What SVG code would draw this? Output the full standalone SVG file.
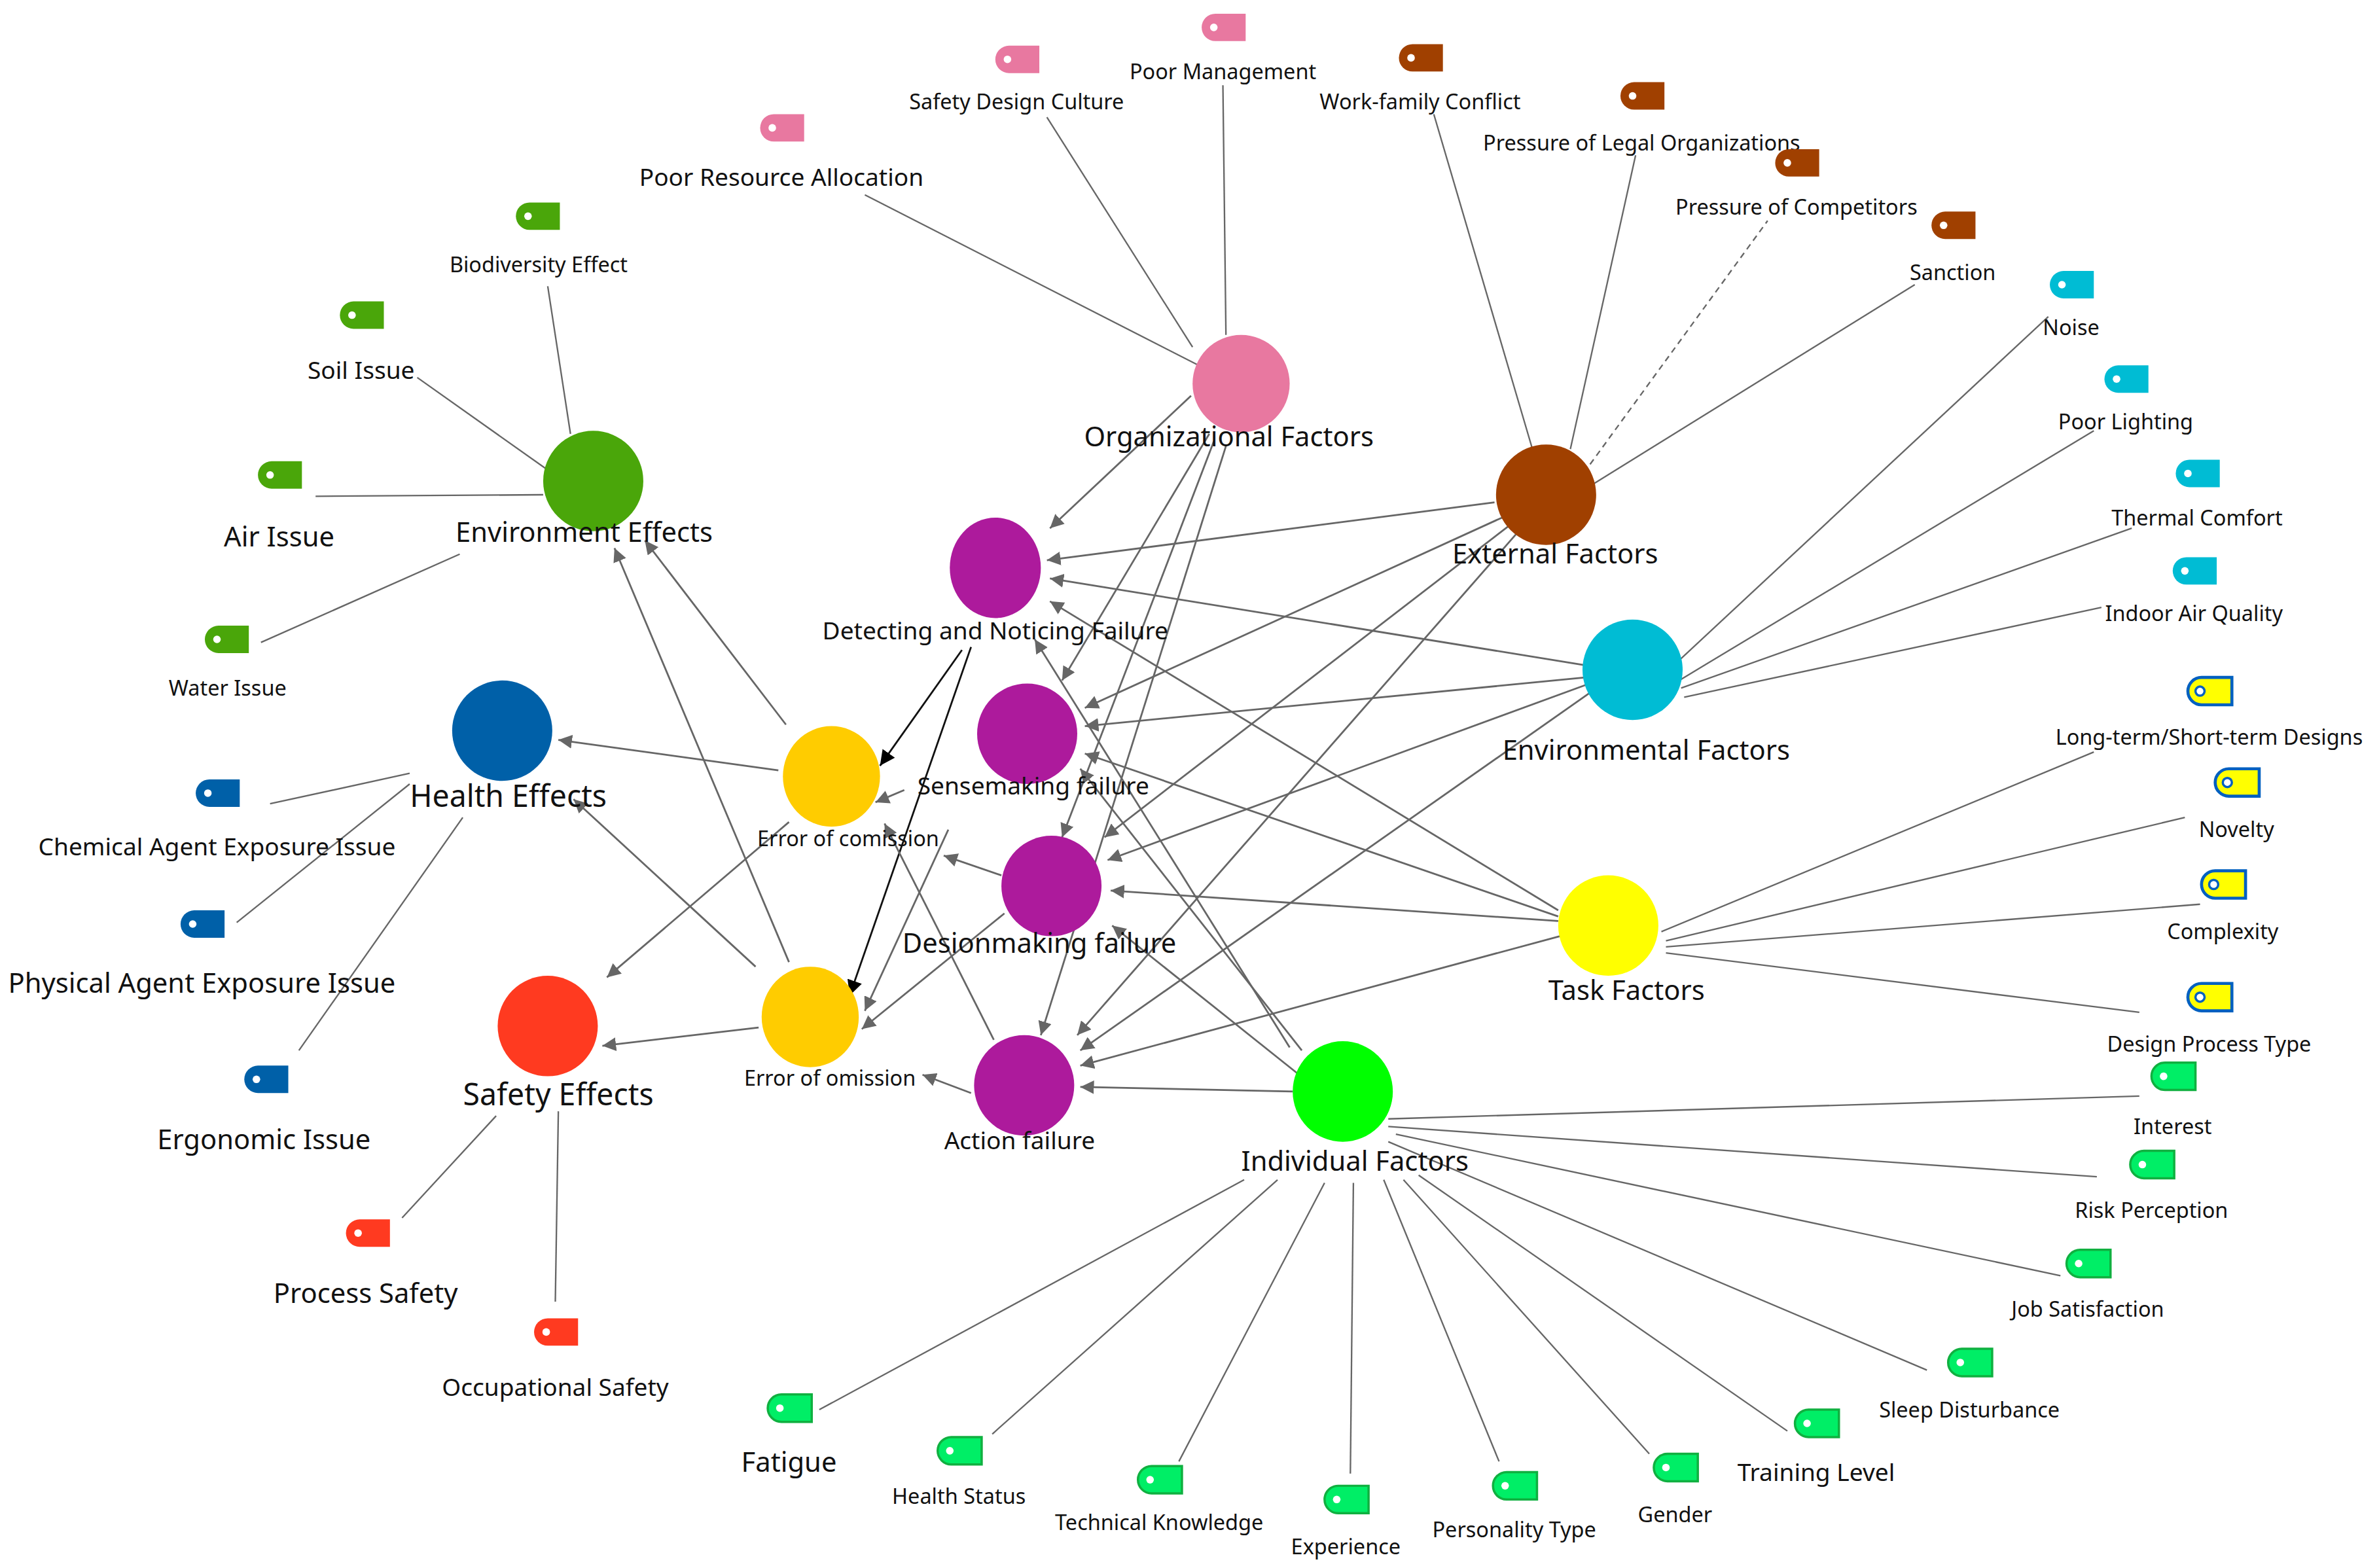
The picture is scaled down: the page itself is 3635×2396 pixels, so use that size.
<svg xmlns="http://www.w3.org/2000/svg" xmlns:xlink="http://www.w3.org/1999/xlink" width="3635" height="2396" viewBox="0 0 3635 2396">
<style>
text{font-family:"Noto Sans","Liberation Sans",sans-serif;fill:#111;text-anchor:middle}
.l{stroke:#666;stroke-width:1;fill:none}
.a{stroke:#666;stroke-width:1.2;fill:none;marker-end:url(#ah)}
.k{stroke:#111;stroke-width:1.2;fill:none;marker-end:url(#ak)}
.s{font-size:14px}.m{font-size:16px}.b{font-size:18px}
</style>
<defs>
<marker id="ah" viewBox="0 0 10 10" refX="10" refY="5" markerWidth="9" markerHeight="9" markerUnits="userSpaceOnUse" orient="auto"><path d="M0,0L10,5L0,10Z" fill="#666"/></marker>
<marker id="ak" viewBox="0 0 10 10" refX="10" refY="5" markerWidth="10" markerHeight="10" markerUnits="userSpaceOnUse" orient="auto"><path d="M0,0L10,5L0,10Z" fill="#000"/></marker>
<g id="tag"><path d="M-5,-9H15V9H-5A9,9 0 0 1 -5,-9Z"/><circle cx="-6" cy="0" r="2.5" fill="#fff" stroke="none"/></g>
<g id="tagy"><path d="M-5,-9H15V9H-5A9,9 0 0 1 -5,-9Z" fill="#ffff00" stroke="#0060c0" stroke-width="2"/><circle cx="-6" cy="0" r="3" fill="#fff" stroke="#0060c0" stroke-width="1.5"/></g>
<g id="tagg"><path d="M-5,-9H15V9H-5A9,9 0 0 1 -5,-9Z" fill="#00ee66" stroke="#10b040" stroke-width="1.5"/><circle cx="-6" cy="0" r="2.5" fill="#fff" stroke="none"/></g>
</defs>
<rect width="3635" height="2396" fill="#fff"/>
<g transform="scale(2.3183,2.3262)">
<g id="connectors">
<line class="l" x1="790" y1="240" x2="570" y2="128"/>
<line class="l" x1="786" y1="228" x2="690" y2="77"/>
<line class="l" x1="808" y1="220" x2="806" y2="56"/>
<line class="l" x1="1010" y1="295" x2="945" y2="75"/>
<line class="l" x1="1035" y1="295" x2="1078" y2="102"/>
<line class="l" x1="1048" y1="305" x2="1165" y2="145" stroke-dasharray="4,3"/>
<line class="l" x1="1050" y1="318" x2="1262" y2="187"/>
<line class="l" x1="1100" y1="440" x2="1350" y2="208"/>
<line class="l" x1="1105" y1="448" x2="1380" y2="283"/>
<line class="l" x1="1108" y1="452" x2="1405" y2="347"/>
<line class="l" x1="1110" y1="458" x2="1385" y2="399"/>
<line class="l" x1="1095" y1="612" x2="1380" y2="494"/>
<line class="l" x1="1098" y1="618" x2="1440" y2="537"/>
<line class="l" x1="1098" y1="622" x2="1450" y2="594"/>
<line class="l" x1="1098" y1="626" x2="1410" y2="665"/>
<line class="l" x1="915" y1="735" x2="1410" y2="720"/>
<line class="l" x1="915" y1="740" x2="1382" y2="773"/>
<line class="l" x1="920" y1="745" x2="1358" y2="838"/>
<line class="l" x1="915" y1="750" x2="1270" y2="900"/>
<line class="l" x1="935" y1="772" x2="1178" y2="940"/>
<line class="l" x1="925" y1="775" x2="1087" y2="955"/>
<line class="l" x1="912" y1="775" x2="988" y2="960"/>
<line class="l" x1="892" y1="777" x2="890" y2="968"/>
<line class="l" x1="873" y1="777" x2="777" y2="960"/>
<line class="l" x1="842" y1="775" x2="654" y2="942"/>
<line class="l" x1="820" y1="775" x2="540" y2="926"/>
<line class="l" x1="376" y1="285" x2="361" y2="188" stroke="#1a7ac0"/>
<line class="l" x1="360" y1="308" x2="275" y2="248"/>
<line class="l" x1="358" y1="325" x2="208" y2="326"/>
<line class="l" x1="303" y1="364" x2="172" y2="422"/>
<line class="l" x1="270" y1="508" x2="178" y2="528"/>
<line class="l" x1="270" y1="515" x2="156" y2="606"/>
<line class="l" x1="305" y1="537" x2="197" y2="690"/>
<line class="l" x1="327" y1="733" x2="265" y2="800"/>
<line class="l" x1="368" y1="730" x2="366" y2="855"/>
<line class="a" x1="785" y1="260" x2="692" y2="347"/>
<line class="a" x1="797" y1="285" x2="700" y2="447"/>
<line class="a" x1="800" y1="290" x2="700" y2="550"/>
<line class="a" x1="808" y1="293" x2="686" y2="680"/>
<line class="a" x1="985" y1="330" x2="690" y2="368"/>
<line class="a" x1="990" y1="340" x2="715" y2="465"/>
<line class="a" x1="995" y1="345" x2="728" y2="550"/>
<line class="a" x1="1000" y1="350" x2="710" y2="680"/>
<line class="a" x1="1045" y1="437" x2="692" y2="380"/>
<line class="a" x1="1045" y1="445" x2="715" y2="477"/>
<line class="a" x1="1045" y1="450" x2="730" y2="565"/>
<line class="a" x1="1048" y1="455" x2="712" y2="690"/>
<line class="a" x1="1027" y1="598" x2="692" y2="395"/>
<line class="a" x1="1027" y1="602" x2="715" y2="495"/>
<line class="a" x1="1027" y1="605" x2="732" y2="585"/>
<line class="a" x1="1028" y1="615" x2="712" y2="700"/>
<line class="a" x1="852" y1="717" x2="712" y2="714"/>
<line class="a" x1="855" y1="705" x2="733" y2="608"/>
<line class="a" x1="858" y1="690" x2="712" y2="505"/>
<line class="a" x1="850" y1="688" x2="682" y2="420"/>
<line class="k" x1="634" y1="427" x2="580" y2="503"/>
<line class="k" x1="640" y1="425" x2="560" y2="654"/>
<line class="a" x1="596" y1="519" x2="577" y2="527"/>
<line class="a" x1="660" y1="575" x2="622" y2="562"/>
<line class="a" x1="655" y1="683" x2="583" y2="541"/>
<line class="a" x1="662" y1="600" x2="568" y2="676"/>
<line class="a" x1="625" y1="545" x2="570" y2="664"/>
<line class="a" x1="640" y1="718" x2="608" y2="706"/>
<line class="a" x1="518" y1="476" x2="425" y2="355"/>
<line class="a" x1="513" y1="506" x2="368" y2="486"/>
<line class="a" x1="520" y1="540" x2="400" y2="642"/>
<line class="a" x1="500" y1="675" x2="397" y2="687"/>
<line class="a" x1="498" y1="635" x2="378" y2="525"/>
<line class="a" x1="520" y1="632" x2="405" y2="360"/>
</g>
<g id="n-org"><circle cx="818" cy="252" r="32" fill="#e878a0"/><text class="b" x="810" y="293">Organizational Factors</text></g>
<g id="n-ext"><circle cx="1019" cy="325" r="33" fill="#a04000"/><text class="b" x="1025" y="370">External Factors</text></g>
<g id="n-env"><circle cx="1076" cy="440" r="33" fill="#00bcd4"/><text class="b" x="1085" y="499">Environmental Factors</text></g>
<g id="n-task"><circle cx="1060" cy="608" r="33" fill="#ffff00"/><text class="b" x="1072" y="657">Task Factors</text></g>
<g id="n-ind"><circle cx="885" cy="717" r="33" fill="#00ff00"/><text class="b" x="893" y="769">Individual Factors</text></g>
<g id="n-enveff"><circle cx="391" cy="316" r="33" fill="#4aa60a"/><text class="b" x="385" y="356">Environment Effects</text></g>
<g id="n-health"><circle cx="331" cy="480" r="33" fill="#0060a8"/><text x="335" y="530" font-size="20">Health Effects</text></g>
<g id="n-safety"><circle cx="361" cy="674" r="33" fill="#ff3a20"/><text x="368" y="726" font-size="20">Safety Effects</text></g>
<g id="n-detect"><ellipse cx="656" cy="373" rx="30" ry="33" fill="#ad1a9c"/><text class="m" x="656" y="420">Detecting and Noticing Failure</text></g>
<g id="n-sense"><ellipse cx="677" cy="482" rx="33" ry="33" fill="#ad1a9c"/><text class="m" x="681" y="522">Sensemaking failure</text></g>
<g id="n-decide"><ellipse cx="693" cy="582" rx="33" ry="33" fill="#ad1a9c"/><text class="b" x="685" y="626">Desionmaking failure</text></g>
<g id="n-action"><ellipse cx="675" cy="713" rx="33" ry="33" fill="#ad1a9c"/><text class="m" x="672" y="755">Action failure</text></g>
<g id="n-comm"><ellipse cx="548" cy="510" rx="32" ry="33" fill="#ffcc00"/><text class="s" x="559" y="556">Error of comission</text></g>
<g id="n-omis"><ellipse cx="534" cy="668" rx="32" ry="33" fill="#ffcc00"/><text class="s" x="547" y="713">Error of omission</text></g>

<g fill="#e878a0">
<g id="t-pra"><use href="#tag" x="515" y="84"/><text class="m" x="515" y="122">Poor Resource Allocation</text></g>
<g id="t-sdc"><use href="#tag" x="670" y="39"/><text class="s" x="670" y="72">Safety Design Culture</text></g>
<g id="t-pm"><use href="#tag" x="806" y="18"/><text class="s" x="806" y="52">Poor Management</text></g>
</g>
<g fill="#a04000">
<g id="t-wfc"><use href="#tag" x="936" y="38"/><text class="s" x="936" y="72">Work-family Conflict</text></g>
<g id="t-plo"><use href="#tag" x="1082" y="63"/><text class="s" x="1082" y="99">Pressure of Legal Organizations</text></g>
<g id="t-poc"><use href="#tag" x="1184" y="107"/><text class="s" x="1184" y="141">Pressure of Competitors</text></g>
<g id="t-san"><use href="#tag" x="1287" y="148"/><text class="s" x="1287" y="184">Sanction</text></g>
</g>
<g fill="#00bcd4">
<g id="t-noise"><use href="#tag" x="1365" y="187"/><text class="s" x="1365" y="220">Noise</text></g>
<g id="t-pl"><use href="#tag" x="1401" y="249"/><text class="s" x="1401" y="282">Poor Lighting</text></g>
<g id="t-tc"><use href="#tag" x="1448" y="311"/><text class="s" x="1448" y="345">Thermal Comfort</text></g>
<g id="t-iaq"><use href="#tag" x="1446" y="375"/><text class="s" x="1446" y="408">Indoor Air Quality</text></g>
</g>
<g id="t-lts"><use href="#tagy" x="1456" y="454"/><text class="s" x="1456" y="489">Long-term/Short-term Designs</text></g>
<g id="t-nov"><use href="#tagy" x="1474" y="514"/><text class="s" x="1474" y="550">Novelty</text></g>
<g id="t-cmp"><use href="#tagy" x="1465" y="581"/><text class="s" x="1465" y="617">Complexity</text></g>
<g id="t-dpt"><use href="#tagy" x="1456" y="655"/><text class="s" x="1456" y="691">Design Process Type</text></g>
<g id="t-int"><use href="#tagg" x="1432" y="707"/><text class="s" x="1432" y="745">Interest</text></g>
<g id="t-rp"><use href="#tagg" x="1418" y="765"/><text class="s" x="1418" y="800">Risk Perception</text></g>
<g id="t-js"><use href="#tagg" x="1376" y="830"/><text class="s" x="1376" y="865">Job Satisfaction</text></g>
<g id="t-sd"><use href="#tagg" x="1298" y="895"/><text class="s" x="1298" y="931">Sleep Disturbance</text></g>
<g id="t-tl"><use href="#tagg" x="1197" y="935"/><text class="m" x="1197" y="973">Training Level</text></g>
<g id="t-gen"><use href="#tagg" x="1104" y="964"/><text class="s" x="1104" y="1000">Gender</text></g>
<g id="t-pt"><use href="#tagg" x="998" y="976"/><text class="s" x="998" y="1010">Personality Type</text></g>
<g id="t-exp"><use href="#tagg" x="887" y="985"/><text class="s" x="887" y="1021">Experience</text></g>
<g id="t-tk"><use href="#tagg" x="764" y="972"/><text class="s" x="764" y="1005">Technical Knowledge</text></g>
<g id="t-hs"><use href="#tagg" x="632" y="953"/><text class="s" x="632" y="988">Health Status</text></g>
<g id="t-fat"><use href="#tagg" x="520" y="925"/><text class="b" x="520" y="967">Fatigue</text></g>
<g fill="#4aa60a">
<g id="t-bio"><use href="#tag" x="354" y="142"/><text class="s" x="355" y="179">Biodiversity Effect</text></g>
<g id="t-soil"><use href="#tag" x="238" y="207"/><text class="m" x="238" y="249">Soil Issue</text></g>
<g id="t-air"><use href="#tag" x="184" y="312"/><text class="b" x="184" y="359">Air Issue</text></g>
<g id="t-water"><use href="#tag" x="149" y="420"/><text class="s" x="150" y="457">Water Issue</text></g>
</g>
<g fill="#0060a8">
<g id="t-chem"><use href="#tag" x="143" y="521"/><text class="m" x="143" y="562">Chemical Agent Exposure Issue</text></g>
<g id="t-phys"><use href="#tag" x="133" y="607"/><text class="b" x="133" y="652">Physical Agent Exposure Issue</text></g>
<g id="t-erg"><use href="#tag" x="175" y="709"/><text class="b" x="174" y="755">Ergonomic Issue</text></g>
</g>
<g fill="#ff3a20">
<g id="t-ps"><use href="#tag" x="242" y="810"/><text class="b" x="241" y="856">Process Safety</text></g>
<g id="t-os"><use href="#tag" x="366" y="875"/><text class="m" x="366" y="917">Occupational Safety</text></g>
</g>
</g>
</svg>
